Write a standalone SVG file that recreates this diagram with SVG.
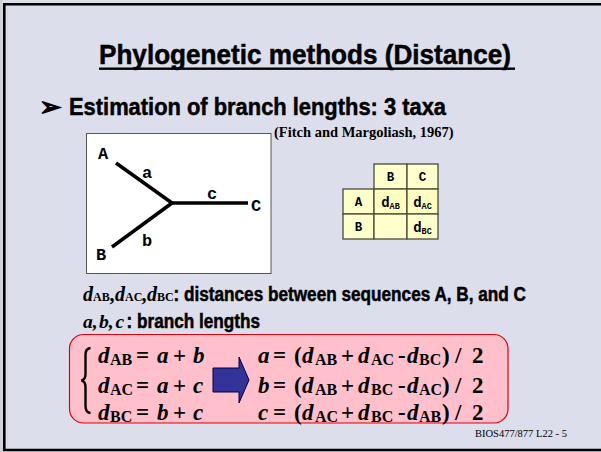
<svg xmlns="http://www.w3.org/2000/svg" width="601" height="452" viewBox="0 0 601 452">
<style>
.hv{font-family:"Liberation Sans",Arial,sans-serif;font-weight:bold;fill:#000}
.hvk{stroke:#000;stroke-width:0.5}
.tm{font-family:"Liberation Serif","Times New Roman",serif;font-weight:bold;fill:#000}
.ti{font-family:"Liberation Serif","Times New Roman",serif;font-weight:bold;font-style:italic;fill:#000}
.mono{font-family:"Liberation Mono","Courier New",monospace;font-weight:bold;fill:#000}
.edge{stroke:#000;stroke-width:3.5;fill:none;stroke-linecap:butt}
.cell{fill:#ffffcc;stroke:#4a4a3a;stroke-width:1.3}
.eq{font-size:23px}
.sb{font-size:16px}
</style>
<rect x="0" y="0" width="601" height="452" fill="#dcdeec"/>
<rect x="0" y="0" width="3" height="452" fill="#cfd0d8"/>
<g id="frame" stroke="#000" stroke-width="2.6" fill="none">
<line x1="3" y1="4.3" x2="601" y2="4.3"/>
<line x1="4.3" y1="3" x2="4.3" y2="451"/>
<line x1="3" y1="450" x2="601" y2="450"/>
</g>
<g id="title">
<text class="hv hvk" x="99" y="64" font-size="28" textLength="412" lengthAdjust="spacingAndGlyphs">Phylogenetic methods (Distance)</text>
<rect x="99" y="67.5" width="416" height="2.4" fill="#000"/>
</g>
<g id="bullet">
<text x="39" y="116" font-family="'DejaVu Sans',sans-serif" font-size="27" fill="#000" stroke="#000" stroke-width="1.2">➢</text>
<text class="hv hvk" x="69" y="115" font-size="24" textLength="377" lengthAdjust="spacingAndGlyphs">Estimation of branch lengths: 3 taxa</text>
</g>
<text class="tm" x="274" y="137" font-size="14.5">(Fitch and Margoliash, 1967)</text>
<g id="tree">
<rect x="86.5" y="133.5" width="184.5" height="140" fill="#fff" stroke="#555" stroke-width="1"/>
<g id="connectors">
<line class="edge" x1="116" y1="163" x2="172" y2="203"/>
<line class="edge" x1="112" y1="247" x2="172" y2="203"/>
<line class="edge" x1="170.5" y1="203" x2="248" y2="203"/>
</g>
<g id="nodeA"><text class="mono" x="98" y="159" font-size="17">A</text></g>
<g id="nodeB"><text class="mono" x="96" y="260" font-size="17">B</text></g>
<g id="nodeC"><text class="mono" x="251" y="211" font-size="17">C</text></g>
<text class="mono" x="142" y="178" font-size="17">a</text>
<text class="mono" x="142" y="246" font-size="17">b</text>
<text class="mono" x="207" y="199" font-size="17">c</text>
</g>
<g id="table">
<rect class="cell" x="374" y="164" width="33" height="25"/>
<rect class="cell" x="407" y="164" width="31" height="25"/>
<rect class="cell" x="343" y="189" width="31" height="25"/>
<rect class="cell" x="374" y="189" width="33" height="25" style="fill:#ffffc0"/>
<rect class="cell" x="407" y="189" width="31" height="25" style="fill:#ffffc0"/>
<rect class="cell" x="343" y="214" width="31" height="25"/>
<rect class="cell" x="374" y="214" width="33" height="25"/>
<rect class="cell" x="407" y="214" width="31" height="25"/>
<g class="mono" font-size="12.5" text-anchor="middle">
<text x="390.5" y="181">B</text>
<text x="422.5" y="181">C</text>
<text x="358.5" y="206">A</text>
<text x="358.5" y="231">B</text>
<text x="390.5" y="207" font-size="14">d<tspan font-size="8.5" dy="2">AB</tspan></text>
<text x="422.5" y="207" font-size="14">d<tspan font-size="8.5" dy="2">AC</tspan></text>
<text x="422.5" y="232" font-size="14">d<tspan font-size="8.5" dy="2">BC</tspan></text>
</g>
</g>
<g id="defs-text">
<text y="301" font-size="20"><tspan class="ti" x="83">d</tspan><tspan class="tm" x="93" font-size="12">AB</tspan><tspan class="tm" x="109.5">,</tspan><tspan class="ti" x="115">d</tspan><tspan class="tm" x="125" font-size="12">AC</tspan><tspan class="tm" x="141.5">,</tspan><tspan class="ti" x="147">d</tspan><tspan class="tm" x="157" font-size="12">BC</tspan></text>
<text class="hv hvk" x="173.5" y="301" font-size="19.5" textLength="352.5" lengthAdjust="spacingAndGlyphs">: distances between sequences A, B, and C</text>
<text y="328" font-size="19.5"><tspan class="ti" x="83">a,</tspan><tspan class="ti" x="99">b,</tspan><tspan class="ti" x="115.5">c</tspan></text>
<text class="hv hvk" x="126.5" y="328" font-size="19.5" textLength="133.5" lengthAdjust="spacingAndGlyphs">: branch lengths</text>
</g>
<g id="equations">
<rect x="69.5" y="334.5" width="438.5" height="88.5" rx="14" ry="14" fill="#ffc0cb" stroke="#e0000a" stroke-width="1.2"/>
<path d="M90.5,348 Q85.5,348.5 85.5,355 L85.5,374 Q85.5,379.5 81.5,380.5 Q85.5,381.5 85.5,387 L85.5,406 Q85.5,412.5 90.5,413" fill="none" stroke="#000" stroke-width="2.4"/>
<g class="eq">
<text y="363"><tspan class="ti" x="98">d</tspan><tspan class="tm sb" x="110" dy="1.5">AB</tspan><tspan class="tm" x="136" dy="-1.5">=</tspan><tspan class="ti" x="157">a</tspan><tspan class="tm" x="173">+</tspan><tspan class="ti" x="193">b</tspan></text>
<text y="393"><tspan class="ti" x="98">d</tspan><tspan class="tm sb" x="110" dy="1.5">AC</tspan><tspan class="tm" x="136" dy="-1.5">=</tspan><tspan class="ti" x="157">a</tspan><tspan class="tm" x="173">+</tspan><tspan class="ti" x="193">c</tspan></text>
<text y="420"><tspan class="ti" x="98">d</tspan><tspan class="tm sb" x="110" dy="1.5">BC</tspan><tspan class="tm" x="136" dy="-1.5">=</tspan><tspan class="ti" x="157">b</tspan><tspan class="tm" x="173">+</tspan><tspan class="ti" x="193">c</tspan></text>

<text y="363"><tspan class="ti" x="258">a</tspan><tspan class="tm" x="273">=</tspan><tspan class="tm" x="294">(</tspan><tspan class="ti" x="302">d</tspan><tspan class="tm sb" x="315" dy="1.5">AB</tspan><tspan class="tm" x="341" dy="-1.5">+</tspan><tspan class="ti" x="358">d</tspan><tspan class="tm sb" x="371" dy="1.5">AC</tspan><tspan class="tm" x="398" dy="-1.5">-</tspan><tspan class="ti" x="407">d</tspan><tspan class="tm sb" x="419" dy="1.5">BC</tspan><tspan class="tm" x="442" dy="-1.5">)</tspan><tspan class="tm" x="455">/</tspan><tspan class="tm" x="472">2</tspan></text>
<text y="393"><tspan class="ti" x="258">b</tspan><tspan class="tm" x="273">=</tspan><tspan class="tm" x="294">(</tspan><tspan class="ti" x="302">d</tspan><tspan class="tm sb" x="315" dy="1.5">AB</tspan><tspan class="tm" x="341" dy="-1.5">+</tspan><tspan class="ti" x="358">d</tspan><tspan class="tm sb" x="371" dy="1.5">BC</tspan><tspan class="tm" x="398" dy="-1.5">-</tspan><tspan class="ti" x="407">d</tspan><tspan class="tm sb" x="419" dy="1.5">AC</tspan><tspan class="tm" x="442" dy="-1.5">)</tspan><tspan class="tm" x="455">/</tspan><tspan class="tm" x="472">2</tspan></text>
<text y="420"><tspan class="ti" x="258">c</tspan><tspan class="tm" x="273">=</tspan><tspan class="tm" x="294">(</tspan><tspan class="ti" x="302">d</tspan><tspan class="tm sb" x="315" dy="1.5">AC</tspan><tspan class="tm" x="341" dy="-1.5">+</tspan><tspan class="ti" x="358">d</tspan><tspan class="tm sb" x="371" dy="1.5">BC</tspan><tspan class="tm" x="398" dy="-1.5">-</tspan><tspan class="ti" x="407">d</tspan><tspan class="tm sb" x="419" dy="1.5">AB</tspan><tspan class="tm" x="442" dy="-1.5">)</tspan><tspan class="tm" x="455">/</tspan><tspan class="tm" x="472">2</tspan></text>
</g>
<polygon points="213,368 239,368 239,357 249,380 239,403 239,392 213,392" fill="#333399" stroke="#000044" stroke-width="1"/>
</g>
<text x="475" y="437" font-family="'Liberation Serif','Times New Roman',serif" font-size="10.5" fill="#000">BIOS477/877 L22 - 5</text>
</svg>
